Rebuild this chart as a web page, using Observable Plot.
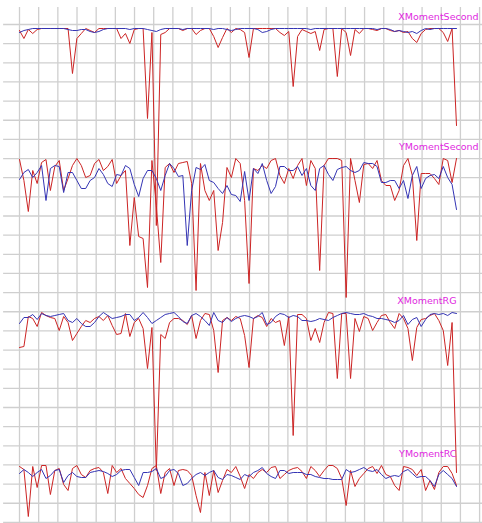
<!DOCTYPE html>
<html><head><meta charset="utf-8">
<script src="https://cdn.jsdelivr.net/npm/d3@7"></script>
<script src="https://cdn.jsdelivr.net/npm/@observablehq/plot@0.6"></script>
<style>body{margin:0;background:#fff}#chart{width:482px;height:523px;overflow:hidden}</style>
</head><body><div id="chart"></div>
<script>
// Series names (panel labels)
const names = ["XMomentSecond", "YMomentSecond", "XMomentRG", "YMomentRC"];

// Values: drop below each panel's maximum (0 = top of panel), 100 samples each
const red1 = [2,10,1,5,1,0,0,0,0,0, 0,0,45,10,5,0,2,4,0,0, 0,0,0,10,5,15,1,0,0,90, 4,197,6,4,0,0,0,2,0,0, 6,2,0,0,8,19,9,0,4,0, 1,4,29,0,0,0,0,0,0,4, 7,3,58,8,1,3,5,3,22,1, 0,0,48,0,4,27,1,5,0,0, 1,2,0,0,2,3,2,4,3,10, 14,5,1,0,0,0,4,13,0,97];
const blue1 = [4,2,1,0,0,0,0,0,0,0, 0,1,2,2,1,1,3,4,3,1, 0,0,0,0,0,1,0,0,0,1, 2,3,1,0,0,0,0,1,0,0, 0,0,0,0,1,0,0,1,2,1, 0,0,0,0,1,4,3,1,0,0, 0,0,0,0,0,0,1,0,0,0, 0,0,0,0,0,0,0,0,0,0, 0,1,0,0,1,3,2,3,4,3, 5,2,0,1,0,0,0,0,0,0];
const red2 = [1,22,53,12,25,4,1,32,8,2, 32,20,7,0,7,19,17,5,1,12, 8,1,25,17,12,87,39,78,80,129, 2,47,104,9,5,14,5,4,3,25, 132,5,32,42,32,92,64,9,19,0, 5,42,125,10,12,7,10,2,0,17, 25,10,20,7,0,27,2,10,112,7, 0,0,0,2,139,0,22,44,6,5, 10,2,22,27,27,42,32,7,0,17, 82,15,15,15,20,26,0,2,24,0];
const blue2 = [21,14,11,19,14,7,42,10,7,8, 34,14,14,22,30,30,22,19,10,16, 25,28,16,17,7,10,26,38,20,12, 12,20,32,17,5,10,18,17,87,32, 9,11,6,22,24,30,35,27,36,37, 43,13,42,10,15,5,22,35,28,8, 8,12,12,8,17,10,27,32,10,7, 16,22,11,9,8,12,14,12,4,5, 5,8,24,24,22,22,30,22,40,17, 8,30,20,17,16,20,8,19,26,51];
const red3 = [35,34,4,6,14,0,3,5,6,18, 4,10,28,21,14,8,10,6,4,8, 3,13,22,21,1,24,10,6,16,56, 15,158,22,26,10,6,6,8,12,3, 26,8,1,2,18,60,8,5,8,4, 6,23,55,6,3,5,14,6,10,8, 33,4,123,2,2,6,28,16,30,10, 0,1,66,1,1,66,6,19,4,6, 18,10,3,2,10,16,1,6,16,48, 15,7,6,3,1,8,18,53,10,160];
const blue3 = [11,5,5,2,7,1,3,4,3,2, 1,8,10,6,11,14,14,10,4,0, 3,6,5,4,2,2,8,5,0,5, 11,8,5,2,1,0,4,9,11,3, 1,4,8,13,0,8,10,5,9,6, 4,3,4,6,4,0,12,10,4,1, 2,5,3,4,8,8,9,8,6,7, 8,5,3,1,0,1,2,2,1,3, 4,6,6,7,8,10,8,3,12,7, 5,14,7,2,1,2,1,3,0,1];
const red4 = [1,4,51,1,22,0,0,29,5,3, 19,25,3,0,9,12,5,3,2,7, 28,0,7,3,13,18,23,29,32,20, 3,0,28,7,3,20,5,4,5,10, 30,47,7,30,5,27,15,4,7,1, 11,23,9,13,7,4,7,2,1,13, 9,5,3,2,6,13,1,5,11,5, 0,0,3,13,40,5,21,13,8,3, 1,8,0,9,11,20,25,1,2,4, 10,4,25,15,24,7,1,1,8,20];
const blue4 = [8,4,7,11,7,4,13,10,5,4, 17,10,7,11,12,12,7,6,5,6, 8,11,9,5,4,4,12,20,7,7, 6,3,13,11,5,4,8,20,18,13, 9,7,10,7,5,12,14,9,10,12, 14,9,11,7,5,2,8,11,13,5, 5,8,7,7,7,9,9,11,12,13, 13,14,14,14,4,7,6,4,2,5, 6,4,9,13,11,10,11,6,4,8, 12,11,11,15,21,9,5,9,13,21];

const reds = [red1, red2, red3, red4];
const blues = [blue1, blue2, blue3, blue4];

// Layout (not data): panel top offsets on the shared y scale, label anchors
const panelTop = [4, 134, 288, 441];
const labelEnd = [104, 104, 99, 99];
const cell = 19.15;           // grid cell in y units
const colCell = 19.17 / 4.414; // grid cell in x (sample) units

const rows = [];
reds.forEach((arr, k) => arr.forEach((v, i) => rows.push({k, s: "red", i, y: panelTop[k] + v})));
blues.forEach((arr, k) => arr.forEach((v, i) => rows.push({k, s: "blue", i, y: panelTop[k] + v})));
const labels = names.map((n, k) => ({n, x: labelEnd[k], y: panelTop[k] - 12}));

const gx = d3.range(0, 25).map(k => k * colCell);
const gy = d3.range(0, 27).map(k => k * cell);

const chart = Plot.plot({
  width: 482, height: 523,
  marginLeft: 0, marginRight: 0, marginTop: 0, marginBottom: 0,
  x: {domain: [0, 99], range: [19, 456], axis: null},
  y: {domain: [0, 498], range: [24, 522], axis: null},
  style: {background: "#fff", overflow: "visible"},
  marks: [
    Plot.ruleX(gx, {x: d => d, y1: -17, y2: 500, stroke: "#cfcfcf", strokeWidth: 1.3}),
    Plot.ruleY(gy, {y: d => d, x1: -3.6, x2: 106, stroke: "#cfcfcf", strokeWidth: 1.3}),
    Plot.line(rows.filter(d => d.s === "red"), {x: "i", y: "y", z: "k", stroke: "#cc2424", strokeWidth: 1}),
    Plot.line(rows.filter(d => d.s === "blue"), {x: "i", y: "y", z: "k", stroke: "#3434b4", strokeWidth: 1}),
    Plot.text(labels, {x: "x", y: "y", text: "n", textAnchor: "end", lineAnchor: "middle", fill: "#e028e0", fontSize: 9.5, fontFamily: "DejaVu Sans"})
  ]
});
document.getElementById("chart").appendChild(chart);
</script>
</body></html>
